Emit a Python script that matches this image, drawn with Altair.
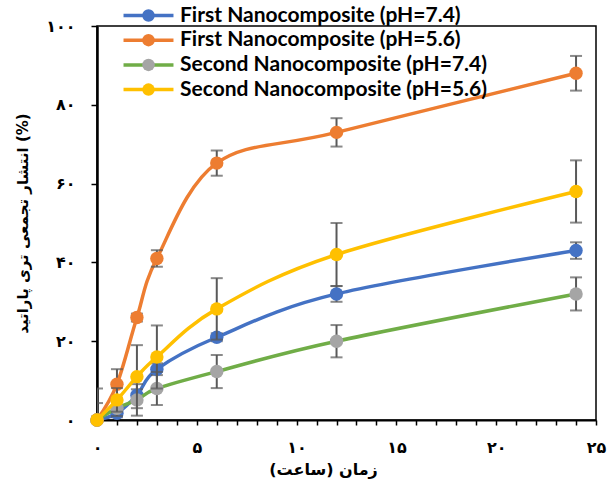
import altair as alt
import pandas as pd

# ---------------- data ----------------
HOURS = [0, 1, 2, 3, 6, 12, 24]

SERIES = [
    "First Nanocomposite (pH=7.4)",
    "First Nanocomposite (pH=5.6)",
    "Second Nanocomposite (pH=7.4)",
    "Second Nanocomposite (pH=5.6)",
]

FIRST_74 = [0, 1.7, 6.3, 12.9, 21.0, 32.0, 43.0]
FIRST_74_ERR = [0, 1.0, 1.5, 1.5, 1.0, 2.0, 2.1]

FIRST_56 = [0, 9.1, 26.0, 41.0, 65.2, 73.0, 88.0]
FIRST_56_ERR = [8.0, 3.8, 1.0, 2.1, 3.2, 3.6, 4.4]

SECOND_74 = [0, 3.0, 5.1, 8.0, 12.3, 20.0, 32.0]
SECOND_74_ERR = [4.3, 2.0, 4.0, 4.2, 4.2, 4.1, 4.2]

SECOND_56 = [0, 5.1, 11.0, 16.0, 28.2, 42.0, 58.0]
SECOND_56_ERR = [0, 3.0, 8.0, 8.0, 7.8, 8.0, 7.9]

VALUES = [FIRST_74, FIRST_56, SECOND_74, SECOND_56]
ERRORS = [FIRST_74_ERR, FIRST_56_ERR, SECOND_74_ERR, SECOND_56_ERR]

LINE_COLORS = ["#4472C4", "#ED7D31", "#70AD47", "#FFC000"]
MARKER_COLORS = ["#4472C4", "#ED7D31", "#A5A5A5", "#FFC000"]

X_TICKS = [0, 5, 10, 15, 20, 25]
X_TICK_LABELS = ["۰", "۵", "۱۰", "۱۵", "۲۰", "۲۵"]
Y_TICKS = [0, 20, 40, 60, 80, 100]
Y_TICK_LABELS = ["۰", "۲۰", "۴۰", "۶۰", "۸۰", "۱۰۰"]

X_TITLE = "زمان (ساعت)"
Y_TITLE = "انتشار تجمعی تری پاراتید (%)"

# ---------------- table ----------------
NBSP = "\u00a0"
SERIES_P = [s + NBSP for s in SERIES]  # separate key so the marker legend stays separate

rows = []
for s, sp, vals, errs in zip(SERIES, SERIES_P, VALUES, ERRORS):
    for h, v, e in zip(HOURS, vals, errs):
        rows.append({"Series": s, "SeriesP": sp, "hour": h, "value": v, "err": e})
df = pd.DataFrame(rows)


def label_expr(ticks, labels):
    expr = "''"
    for t, l in reversed(list(zip(ticks, labels))):
        expr = f"datum.value == {t} ? '{l}' : ({expr})"
    return expr


PFONT = "DejaVu Sans"
LFONT = "Lato"

x_axis = alt.Axis(
    values=list(range(0, 26)),
    labelExpr=label_expr(X_TICKS, X_TICK_LABELS),
    title=X_TITLE,
    grid=False,
    tickSize=5,
    tickWidth=1.5,
    tickColor="black",
    domainColor="black",
    domainWidth=2,
    labelFont=PFONT,
    labelFontWeight="bold",
    labelFontSize=16,
    labelColor="black",
    labelPadding=14,
    labelFlush=False,
    labelOverlap=False,
    labelSeparation=-100,
    titleFont=PFONT,
    titleFontWeight="bold",
    titleFontSize=16,
    titleColor="black",
    titlePadding=6,
    titleX=226,
)
x_scale = alt.Scale(domain=[0, 25], nice=False, zero=False)
y_scale = alt.Scale(domain=[0, 100], nice=False)
y_axis = alt.Axis(
    values=Y_TICKS,
    labelExpr=label_expr(Y_TICKS, Y_TICK_LABELS),
    title=Y_TITLE,
    grid=False,
    tickSize=6,
    tickWidth=1.5,
    tickColor="black",
    domainColor="black",
    domainWidth=2.5,
    labelFont=PFONT,
    labelFontWeight="bold",
    labelFontSize=16,
    labelColor="black",
    labelPadding=16,
    labelFlush=False,
    titleFont=PFONT,
    titleFontWeight="bold",
    titleFontSize=15,
    titleColor="black",
    titlePadding=15,
)


def X(field):
    return alt.X(field, scale=x_scale, axis=x_axis)


def Y(field):
    return alt.Y(field, scale=y_scale, axis=y_axis)


common_legend = dict(
    title=None,
    orient="none",
    legendX=41,
    legendY=-21,
    symbolSize=156,
    labelFont=LFONT,
    labelFontWeight="bold",
    labelFontSize=21,
    labelOffset=21,
    labelLimit=500,
    rowPadding=2.7,
    padding=0,
)
line_legend = alt.Legend(
    symbolType="M-4,0H4", symbolStrokeWidth=3.5, labelColor="transparent", **common_legend
)
point_legend = alt.Legend(
    symbolType="circle", symbolStrokeWidth=0, labelColor="black", **common_legend
)

color_enc = alt.Color(
    "Series:N", scale=alt.Scale(domain=SERIES, range=LINE_COLORS), legend=line_legend
)
fill_enc = alt.Fill(
    "SeriesP:N", scale=alt.Scale(domain=SERIES_P, range=MARKER_COLORS), legend=point_legend
)

base = alt.Chart(df)
layers = []
for s in SERIES:
    sub = base.transform_filter(alt.datum.Series == s)
    line = sub.mark_line(interpolate="cardinal", strokeWidth=3.5).encode(
        x=X("hour:Q"), y=Y("value:Q"), color=color_enc
    )
    errs = sub.transform_filter("datum.err > 0").transform_calculate(
        lo="datum.value - datum.err", hi="datum.value + datum.err"
    )
    rule = errs.mark_rule(color="#595959", strokeWidth=2, clip=True).encode(
        x=X("hour:Q"), y=Y("lo:Q"), y2="hi:Q"
    )
    cap_hi = errs.mark_tick(
        color="#595959", orient="horizontal", size=12, thickness=2, clip=True
    ).encode(x=X("hour:Q"), y=Y("hi:Q"))
    cap_lo = errs.mark_tick(
        color="#595959", orient="horizontal", size=12, thickness=2, clip=True
    ).encode(x=X("hour:Q"), y=Y("lo:Q"))
    pts = sub.mark_point(filled=True, size=180, opacity=1, strokeWidth=0).encode(
        x=X("hour:Q"), y=Y("value:Q"), fill=fill_enc
    )
    layers += [line, rule, cap_hi, cap_lo, pts]

chart = (
    alt.layer(*layers)
    .properties(
        width=499,
        height=394,
        autosize=alt.AutoSizeParams(type="none"),
        padding={"left": 97, "top": 26, "right": 18, "bottom": 61},
        background="white",
    )
    .configure_view(stroke="black", strokeWidth=1.5)
)

chart.save("out.html", embed_options={"renderer": "svg", "actions": False})
